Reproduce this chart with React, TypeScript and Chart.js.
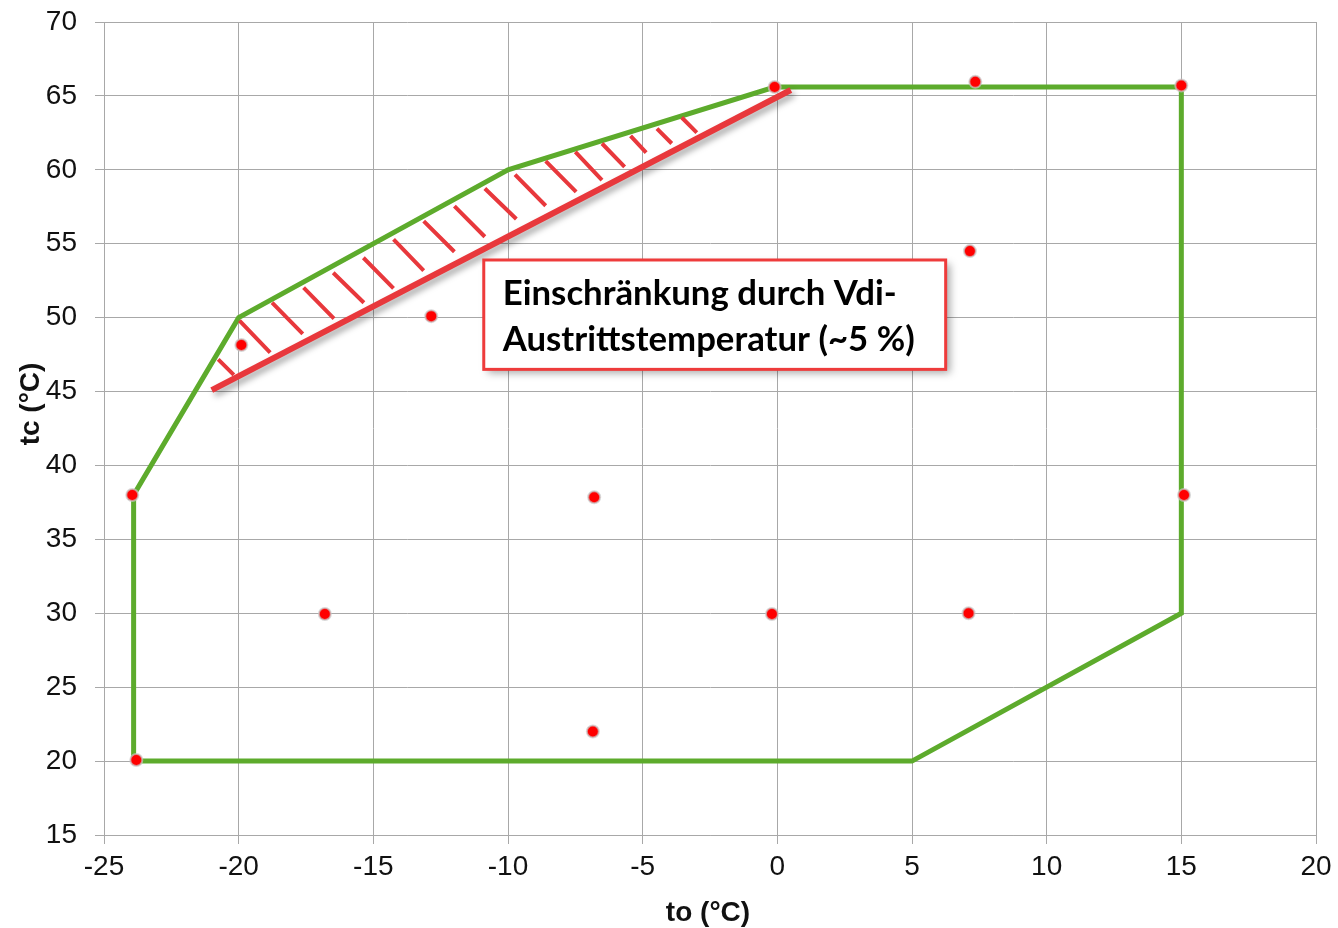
import React, { useEffect, useRef } from "react";
import { Chart, registerables } from "chart.js";

Chart.register(...registerables);

// ---- axes ----
const X_MIN = -25;
const X_MAX = 20;
const Y_MIN = 15;
const Y_MAX = 70;
const TICK_STEP = 5;
const X_TITLE = "to (°C)";
const Y_TITLE = "tc (°C)";

// ---- operating envelope (green) ----
const envelopeTo = [-23.9, 5, 15, 15, -0.1, -10, -20, -23.9, -23.9];
const envelopeTc = [20, 20, 30, 65.6, 65.6, 60, 50, 38, 20];

// ---- limit line (red) ----
const limitTo = [-21.0, 0.5];
const limitTc = [45.1, 65.4];

// ---- hatching between envelope and limit line ----
const hatchTopTo = [-20.76, -19.97, -18.76, -17.59, -16.49, -15.37, -14.25, -13.13, -11.99, -10.86, -9.74, -8.6, -7.5, -6.51, -5.45, -4.47, -3.55];
const hatchTopTc = [47.18, 49.8, 51.01, 52.03, 53.04, 54.05, 55.29, 56.53, 57.55, 58.74, 59.68, 60.59, 61.22, 61.78, 62.3, 62.79, 63.54];
const hatchBotTo = [-20.18, -18.83, -17.62, -16.46, -15.35, -14.25, -13.13, -11.99, -10.86, -9.69, -8.6, -7.47, -6.51, -5.67, -4.87, -3.92, -2.99];
const hatchBotTc = [46.13, 47.64, 48.9, 49.93, 51.01, 51.98, 53.18, 54.46, 55.47, 56.67, 57.57, 58.51, 59.3, 60.2, 61.17, 61.78, 62.52];

// ---- measurement points (red dots) ----
const pointTo = [-0.1, 7.35, 15.0, 7.15, -12.85, -19.9, -23.95, -6.8, 15.1, -16.8, -0.2, 7.1, -6.85, -23.8];
const pointTc = [65.6, 65.95, 65.7, 54.5, 50.1, 48.15, 38.0, 37.85, 38.0, 29.95, 29.95, 30.0, 22.0, 20.07];

// ---- annotation ----
const noteLines = ["Einschränkung durch Vdi-", "Austrittstemperatur (~5 %)"];
const noteTo = [-10.9, 6.25];
const noteTc = [53.9, 46.5];

const GREEN = "#5DAB2C";
const RED_LINE = "#E8383C";
const DOT = "#FF0000";
const GRID = "#A8A8A8";
const TEXT = "#111111";
const TICK_FONT = '"Liberation Sans", Arial, sans-serif';

function xy(xs: number[], ys: number[]) {
  return xs.map((x, i) => ({ x, y: ys[i] }));
}

function hatchData() {
  const out: { x: number; y: number | null }[] = [];
  hatchTopTo.forEach((x, i) => {
    out.push({ x, y: hatchTopTc[i] });
    out.push({ x: hatchBotTo[i], y: hatchBotTc[i] });
    out.push({ x: hatchBotTo[i], y: null });
  });
  return out;
}

const shadowPlugin = {
  id: "shadowPlugin",
  beforeDatasetDraw(chart: any, args: any) {
    const ds = chart.data.datasets[args.index];
    if (ds && ds.shadow) {
      const ctx = chart.ctx;
      ctx.save();
      ctx.shadowColor = "rgba(0,0,0,0.35)";
      ctx.shadowBlur = 6;
      ctx.shadowOffsetX = 3;
      ctx.shadowOffsetY = 4;
    }
  },
  afterDatasetDraw(chart: any, args: any) {
    const ds = chart.data.datasets[args.index];
    if (ds && ds.shadow) chart.ctx.restore();
  },
};

const decorPlugin = {
  id: "decorPlugin",
  afterDraw(chart: any) {
    const ctx = chart.ctx;
    const xs = chart.scales.x;
    const ys = chart.scales.y;
    // axis titles
    ctx.save();
    ctx.fillStyle = TEXT;
    ctx.font = `bold 28px ${TICK_FONT}`;
    ctx.textAlign = "center";
    ctx.textBaseline = "alphabetic";
    ctx.fillText(X_TITLE, (chart.chartArea.left + chart.chartArea.right) / 2 - 2, 921);
    ctx.translate(39, 404);
    ctx.rotate(-Math.PI / 2);
    ctx.fillText(Y_TITLE, 0, 0);
    ctx.restore();

    // annotation box
    const l = xs.getPixelForValue(noteTo[0]);
    const r = xs.getPixelForValue(noteTo[1]);
    const t = ys.getPixelForValue(noteTc[0]);
    const b = ys.getPixelForValue(noteTc[1]);
    ctx.save();
    ctx.shadowColor = "rgba(0,0,0,0.35)";
    ctx.shadowBlur = 8;
    ctx.shadowOffsetX = 4;
    ctx.shadowOffsetY = 4;
    ctx.fillStyle = "#ffffff";
    ctx.fillRect(l, t, r - l, b - t);
    ctx.restore();
    ctx.save();
    ctx.strokeStyle = "#EE3B3B";
    ctx.lineWidth = 3;
    ctx.strokeRect(l, t, r - l, b - t);
    ctx.fillStyle = "#000000";
    const fam = 'Lato, "Open Sans", sans-serif';
    ctx.font = `bold 28px ${fam}`;
    const w = ctx.measureText(noteLines[1]).width;
    const size = (28 * 412) / w;
    ctx.font = `bold ${size.toFixed(2)}px ${fam}`;
    ctx.textAlign = "left";
    ctx.textBaseline = "alphabetic";
    ctx.fillText(noteLines[0], l + 19, t + 45);
    ctx.fillText(noteLines[1], l + 19, t + 91);
    ctx.restore();
  },
};

export default function App() {
  const ref = useRef<HTMLCanvasElement | null>(null);
  useEffect(() => {
    if (!ref.current) return;
    const chart = new Chart(ref.current, {
      type: "scatter",
      data: {
        datasets: [
          {
            label: "points",
            data: xy(pointTo, pointTc),
            showLine: false,
            pointRadius: 6,
            pointBackgroundColor: DOT,
            pointBorderColor: "rgba(200,200,200,0.7)",
            pointBorderWidth: 2,
            order: 0,
          },
          {
            label: "limit",
            data: xy(limitTo, limitTc),
            showLine: true,
            borderColor: RED_LINE,
            borderWidth: 6,
            pointRadius: 0,
            order: 1,
            shadow: true,
          } as any,
          {
            label: "hatch",
            data: hatchData(),
            showLine: true,
            spanGaps: false,
            borderColor: RED_LINE,
            borderWidth: 4,
            pointRadius: 0,
            order: 2,
          },
          {
            label: "envelope",
            data: xy(envelopeTo, envelopeTc),
            showLine: true,
            borderColor: GREEN,
            borderWidth: 5,
            pointRadius: 0,
            borderJoinStyle: "miter",
            order: 3,
          },
        ],
      },
      options: {
        responsive: false,
        animation: false,
        events: [],
        layout: { padding: { left: 0, right: 22, top: 22, bottom: 0 } },
        plugins: {
          legend: { display: false },
          tooltip: { enabled: false },
        },
        scales: {
          x: {
            type: "linear",
            min: X_MIN,
            max: X_MAX,
            ticks: {
              stepSize: TICK_STEP,
              color: TEXT,
              padding: 6,
              font: { family: TICK_FONT, size: 28 },
            },
            grid: { color: GRID, lineWidth: 1, tickLength: 9 },
            border: { color: GRID, width: 1 },
            afterFit: (s: any) => {
              s.height = 93;
              s.paddingLeft = 0;
              s.paddingRight = 0;
            },
          },
          y: {
            type: "linear",
            min: Y_MIN,
            max: Y_MAX,
            ticks: {
              stepSize: TICK_STEP,
              color: TEXT,
              padding: 18,
              font: { family: TICK_FONT, size: 28 },
            },
            grid: { color: GRID, lineWidth: 1, tickLength: 9 },
            border: { color: GRID, width: 1 },
            afterFit: (s: any) => {
              s.width = 104;
              s.paddingTop = 0;
              s.paddingBottom = 0;
            },
          },
        },
      },
      plugins: [shadowPlugin, decorPlugin],
    });
    return () => chart.destroy();
  }, []);
  return (
    <div style={{ position: "fixed", left: 0, top: 0, width: 1338, height: 928, background: "#fff" }}>
      <canvas ref={ref} width={1338} height={928} />
    </div>
  );
}
